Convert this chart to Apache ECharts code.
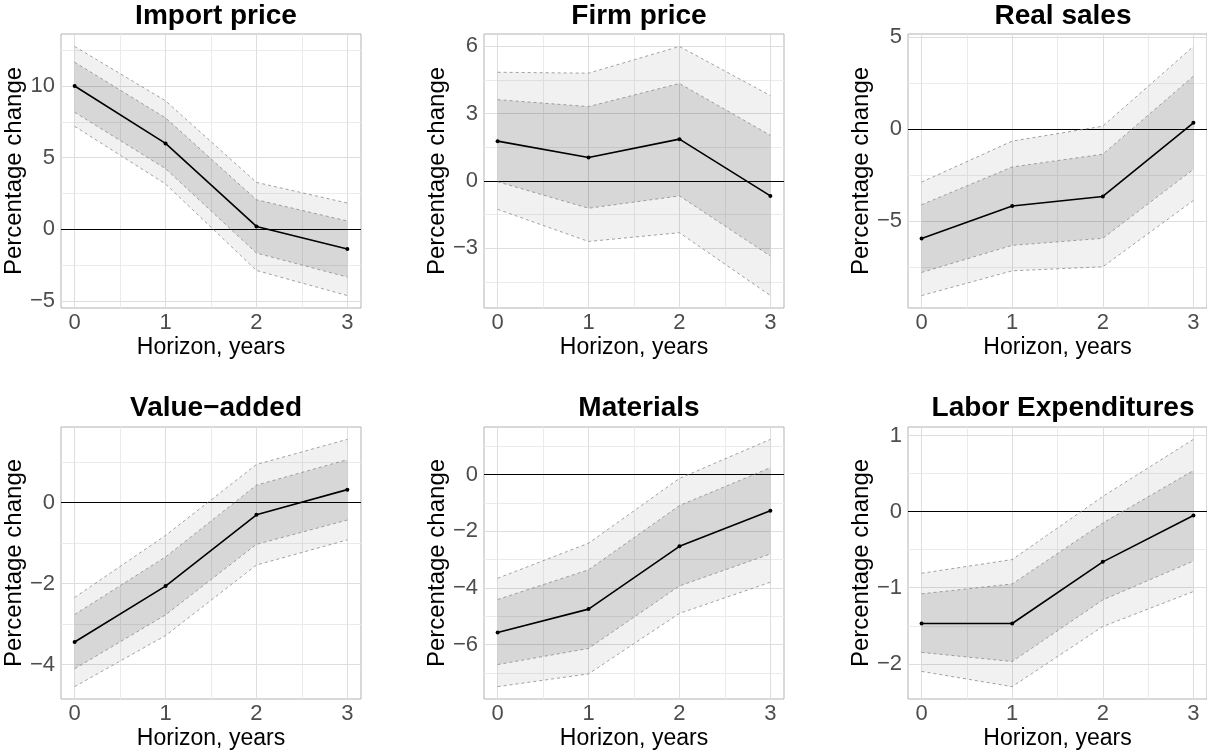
<!DOCTYPE html>
<html><head><meta charset="utf-8">
<script src="https://cdn.jsdelivr.net/npm/echarts@6/dist/echarts.min.js"></script>
<style>html,body{margin:0;padding:0;background:#fff}#c{width:1207px;height:751px}</style>
</head><body><div id="c"></div>
<script>
// ---------- data ----------
const horizon = [0, 1, 2, 3];
const xTicks = [0, 1, 2, 3];
const titles = ['Import price', 'Firm price', 'Real sales', 'Value\u2212added', 'Materials', 'Labor Expenditures'];

const importEst     = [10.0, 6.0, 0.21, -1.37];
const importInnerHi = [11.66, 7.78, 2.07, 0.59];
const importInnerLo = [8.17, 4.24, -1.65, -3.32];
const importOuterHi = [12.76, 8.97, 3.28, 1.84];
const importOuterLo = [7.19, 3.17, -2.86, -4.61];
const importTicks   = [-5, 0, 5, 10];

const firmEst     = [1.77, 1.04, 1.86, -0.67];
const firmInnerHi = [3.62, 3.31, 4.34, 2.03];
const firmInnerLo = [-0.04, -1.22, -0.67, -3.35];
const firmOuterHi = [4.84, 4.80, 5.99, 3.80];
const firmOuterLo = [-1.27, -2.70, -2.31, -5.11];
const firmTicks   = [-3, 0, 3, 6];

const salesEst     = [-5.93, -4.17, -3.65, 0.34];
const salesInnerHi = [-4.10, -2.05, -1.36, 2.87];
const salesInnerLo = [-7.77, -6.30, -5.92, -2.18];
const salesOuterHi = [-2.87, -0.65, 0.16, 4.48];
const salesOuterLo = [-9.02, -7.68, -7.46, -3.87];
const salesTicks   = [-5, 0, 5];

const vaEst     = [-3.44, -2.06, -0.30, 0.32];
const vaInnerHi = [-2.76, -1.34, 0.43, 1.06];
const vaInnerLo = [-4.10, -2.77, -1.03, -0.43];
const vaOuterHi = [-2.34, -0.81, 0.94, 1.56];
const vaOuterLo = [-4.54, -3.28, -1.54, -0.92];
const vaTicks   = [-4, -2, 0];

const matEst     = [-5.58, -4.75, -2.53, -1.27];
const matInnerHi = [-4.41, -3.36, -1.09, 0.25];
const matInnerLo = [-6.71, -6.14, -3.93, -2.80];
const matOuterHi = [-3.66, -2.42, -0.13, 1.25];
const matOuterLo = [-7.49, -7.04, -4.90, -3.80];
const matTicks   = [-6, -4, -2, 0];

const laborEst     = [-1.47, -1.47, -0.66, -0.05];
const laborInnerHi = [-1.08, -0.95, -0.15, 0.54];
const laborInnerLo = [-1.85, -1.97, -1.16, -0.65];
const laborOuterHi = [-0.81, -0.63, 0.20, 0.95];
const laborOuterLo = [-2.10, -2.30, -1.51, -1.05];
const laborTicks   = [-2, -1, 0, 1];

// ---------- assemble ----------
const panels = [
  [importEst, importInnerLo, importInnerHi, importOuterLo, importOuterHi, importTicks],
  [firmEst, firmInnerLo, firmInnerHi, firmOuterLo, firmOuterHi, firmTicks],
  [salesEst, salesInnerLo, salesInnerHi, salesOuterLo, salesOuterHi, salesTicks],
  [vaEst, vaInnerLo, vaInnerHi, vaOuterLo, vaOuterHi, vaTicks],
  [matEst, matInnerLo, matInnerHi, matOuterLo, matOuterHi, matTicks],
  [laborEst, laborInnerLo, laborInnerHi, laborOuterLo, laborOuterHi, laborTicks]
];

const colLeft = [61, 484, 908];
const rowTop = [34, 427];
const plotW = 300, plotH = 274;
const FONT = '"Liberation Sans", Arial, Helvetica, sans-serif';

const fmt = v => (v < 0 ? '\u2212' + Math.abs(v) : String(v));
const pairs = arr => horizon.map((x, i) => [x, arr[i]]);

const grids = [], xAxes = [], yAxes = [], series = [], titleList = [];
const majorGrid = '#dedede', minorGrid = '#ebebeb';
const dashStyle = { color: '#8a8a8a', width: 0.8, type: [3, 3] };

function bandSeries(i, lo, hi, fill) {
  return {
    type: 'custom', coordinateSystem: 'cartesian2d', xAxisIndex: i, yAxisIndex: i,
    silent: true, animation: false, z: 2,
    data: horizon.map((x, k) => [x, lo[k], hi[k]]),
    encode: { x: 0, y: [1, 2] },
    renderItem: function (params, api) {
      if (params.dataIndex !== 0) return null;
      const pts = [];
      for (let k = 0; k < horizon.length; k++) pts.push(api.coord([horizon[k], hi[k]]));
      for (let k = horizon.length - 1; k >= 0; k--) pts.push(api.coord([horizon[k], lo[k]]));
      return { type: 'polygon', shape: { points: pts }, style: { fill: fill }, silent: true };
    }
  };
}

panels.forEach((p, i) => {
  const [est, iLo, iHi, oLo, oHi, ticks] = p;
  const r = Math.floor(i / 3), c = i % 3;
  const left = colLeft[c], top = rowTop[r];
  grids.push({ left: left, top: top, width: c === 2 ? 299 : plotW, height: plotH,
    show: true, borderColor: '#b3b3b3', borderWidth: 1, backgroundColor: '#fff', containLabel: false });

  const all = [].concat(est, iLo, iHi, oLo, oHi);
  const dmin = Math.min.apply(null, all), dmax = Math.max.apply(null, all);
  const pad = (dmax - dmin) * 0.05;
  const ymin = dmin - pad, ymax = dmax + pad;

  xAxes.push({ gridIndex: i, type: 'value', min: -0.15, max: 3.15,
    axisLine: { show: false }, splitLine: { show: false },
    axisTick: { show: true, customValues: xTicks, length: 4, lineStyle: { color: '#b3b3b3', width: 1 } },
    axisLabel: { customValues: xTicks, color: '#4d4d4d', fontSize: 22, fontFamily: FONT, margin: 4 },
    name: 'Horizon, years', nameLocation: 'middle', nameGap: 28,
    nameTextStyle: { color: '#000', fontSize: 23, fontFamily: FONT } });

  yAxes.push({ gridIndex: i, type: 'value', min: ymin, max: ymax,
    axisLine: { show: false }, splitLine: { show: false },
    axisTick: { show: true, customValues: ticks, length: 4, lineStyle: { color: '#b3b3b3', width: 1 } },
    axisLabel: { customValues: ticks, color: '#4d4d4d', fontSize: 22, fontFamily: FONT, margin: 6, formatter: fmt },
    name: 'Percentage change', nameLocation: 'middle', nameGap: 33, nameRotate: 90,
    nameTextStyle: { color: '#000', fontSize: 24, fontFamily: FONT } });

  // grid lines (major at ticks, minor at midpoints)
  const step = ticks[1] - ticks[0];
  const minors = [];
  for (let k = -1; k < ticks.length; k++) {
    const m = ticks[0] + step * (k + 0.5);
    if (m > ymin && m < ymax) minors.push(m);
  }
  const gl = [];
  minors.forEach(v => gl.push({ yAxis: v, lineStyle: { color: minorGrid, width: 1, type: 'solid' } }));
  [0.5, 1.5, 2.5].forEach(v => gl.push({ xAxis: v, lineStyle: { color: minorGrid, width: 1, type: 'solid' } }));
  ticks.forEach(v => gl.push({ yAxis: v, lineStyle: { color: majorGrid, width: 1, type: 'solid' } }));
  xTicks.forEach(v => gl.push({ xAxis: v, lineStyle: { color: majorGrid, width: 1, type: 'solid' } }));
  gl.push({ yAxis: 0, lineStyle: { color: '#000', width: 1, type: 'solid' } });

  series.push(bandSeries(i, oLo, oHi, 'rgba(0,0,0,0.055)'));
  series.push(bandSeries(i, iLo, iHi, 'rgba(0,0,0,0.105)'));

  const base = { type: 'line', xAxisIndex: i, yAxisIndex: i, symbol: 'none', animation: false, silent: true, z: 3 };
  [oLo, oHi, iLo, iHi].forEach(arr => series.push(Object.assign({}, base, { data: pairs(arr), lineStyle: dashStyle })));

  series.push(Object.assign({}, base, { data: pairs(est), symbol: 'circle', symbolSize: 4,
    itemStyle: { color: '#000' }, lineStyle: { color: '#000', width: 1.6 }, z: 4,
    markLine: { silent: true, symbol: ['none', 'none'], label: { show: false }, animation: false, z: 1, data: gl } }));

  titleList.push({ text: titles[i], left: left + plotW / 2, top: r === 0 ? -3 : 389, textAlign: 'center',
    textStyle: { fontSize: 28, fontWeight: 'bold', color: '#000', fontFamily: FONT } });
});

const chart = echarts.init(document.getElementById('c'), null, { renderer: 'canvas' });
chart.setOption({ animation: false, backgroundColor: '#fff', title: titleList,
  grid: grids, xAxis: xAxes, yAxis: yAxes, series: series });
</script></body></html>
